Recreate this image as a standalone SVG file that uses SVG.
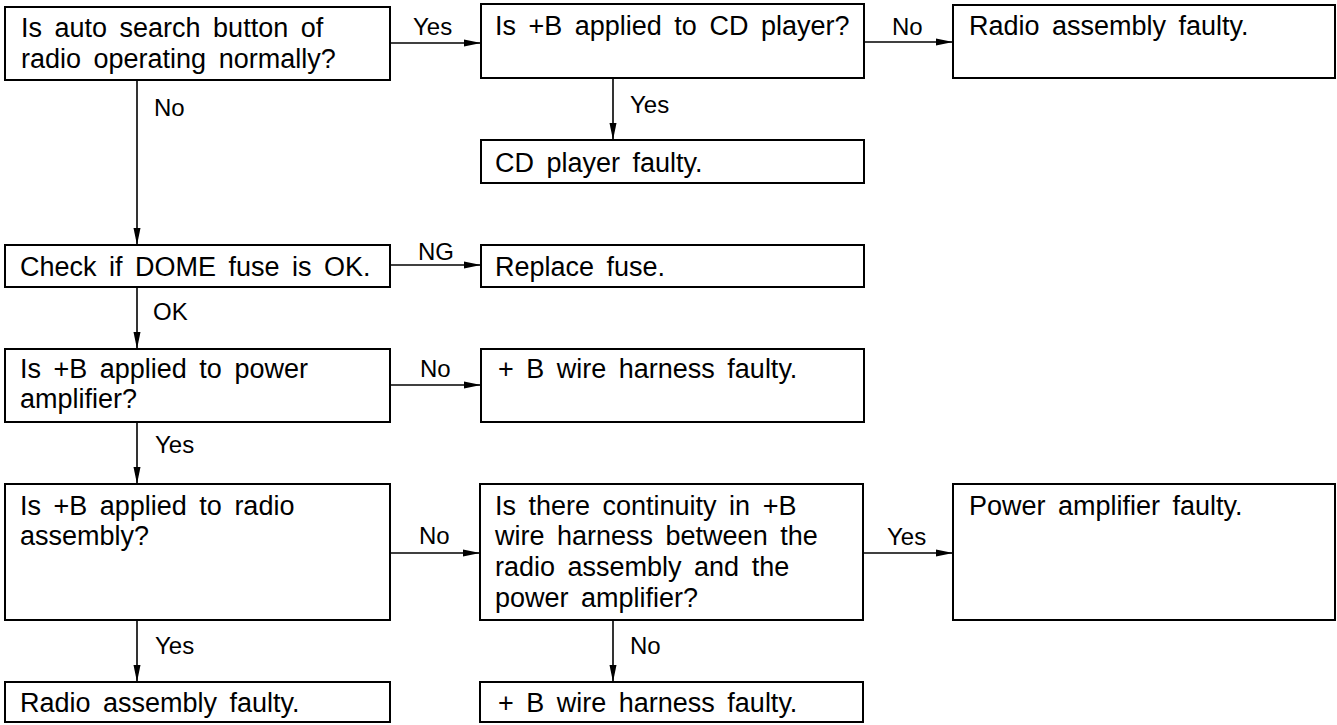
<svg xmlns="http://www.w3.org/2000/svg" width="1337" height="725" viewBox="0 0 1337 725">
<defs>
<marker id="ah" markerUnits="userSpaceOnUse" markerWidth="17" markerHeight="8" refX="17" refY="4" orient="auto">
<path d="M0,0.5 L17,4 L0,7.5 z" fill="#000"/>
</marker>
<style>
.box{fill:#fff;stroke:#000;stroke-width:2}
.t{font-family:"Liberation Sans",Arial,sans-serif;font-size:27px;fill:#000;word-spacing:5px}
.l{font-family:"Liberation Sans",Arial,sans-serif;font-size:24px;fill:#000}
.c{fill:none;stroke:#000;stroke-width:1.6;marker-end:url(#ah)}
</style>
</defs>
<rect width="1337" height="725" fill="#fff"/>
<g id="connectors">
<line class="c" x1="390" y1="43" x2="481" y2="43"/>
<line class="c" x1="864" y1="42" x2="953" y2="42"/>
<line class="c" x1="613" y1="78" x2="613" y2="140"/>
<line class="c" x1="137" y1="80" x2="137" y2="245"/>
<line class="c" x1="390" y1="265" x2="481" y2="265"/>
<line class="c" x1="137" y1="287" x2="137" y2="349"/>
<line class="c" x1="390" y1="385" x2="481" y2="385"/>
<line class="c" x1="137" y1="422" x2="137" y2="484"/>
<line class="c" x1="390" y1="553" x2="480" y2="553"/>
<line class="c" x1="863" y1="553" x2="953" y2="553"/>
<line class="c" x1="137" y1="620" x2="137" y2="682"/>
<line class="c" x1="613" y1="620" x2="613" y2="682"/>
<text class="l" x="413" y="35">Yes</text>
<text class="l" x="892" y="35">No</text>
<text class="l" x="154" y="116">No</text>
<text class="l" x="630" y="113">Yes</text>
<text class="l" x="418" y="260">NG</text>
<text class="l" x="153" y="320">OK</text>
<text class="l" x="420" y="377">No</text>
<text class="l" x="155" y="453">Yes</text>
<text class="l" x="419" y="544">No</text>
<text class="l" x="887" y="545">Yes</text>
<text class="l" x="155" y="654">Yes</text>
<text class="l" x="630" y="654">No</text>
</g>
<g id="n1"><rect class="box" x="5" y="7" width="385" height="73"/>
<text class="t" x="21" y="37">Is auto search button of</text>
<text class="t" x="21" y="68">radio operating normally?</text></g>
<g id="n2"><rect class="box" x="481" y="4" width="383" height="74"/>
<text class="t" x="495" y="35">Is +B applied to CD player?</text></g>
<g id="n3"><rect class="box" x="953" y="5" width="382" height="73"/>
<text class="t" x="969" y="35">Radio assembly faulty.</text></g>
<g id="n4"><rect class="box" x="481" y="140" width="383" height="43"/>
<text class="t" x="495" y="172">CD player faulty.</text></g>
<g id="n5"><rect class="box" x="5" y="245" width="385" height="42"/>
<text class="t" x="20" y="276">Check if DOME fuse is OK.</text></g>
<g id="n6"><rect class="box" x="481" y="245" width="383" height="42"/>
<text class="t" x="495" y="276">Replace fuse.</text></g>
<g id="n7"><rect class="box" x="5" y="349" width="385" height="73"/>
<text class="t" x="20" y="378">Is +B applied to power</text>
<text class="t" x="20" y="408">amplifier?</text></g>
<g id="n8"><rect class="box" x="481" y="349" width="383" height="73"/>
<text class="t" x="498" y="378">+ B wire harness faulty.</text></g>
<g id="n9"><rect class="box" x="5" y="484" width="385" height="136"/>
<text class="t" x="20" y="515">Is +B applied to radio</text>
<text class="t" x="20" y="545">assembly?</text></g>
<g id="n10"><rect class="box" x="480" y="484" width="383" height="136"/>
<text class="t" x="495" y="515">Is there continuity in +B</text>
<text class="t" x="495" y="545">wire harness between the</text>
<text class="t" x="495" y="576">radio assembly and the</text>
<text class="t" x="495" y="607">power amplifier?</text></g>
<g id="n11"><rect class="box" x="953" y="484" width="382" height="136"/>
<text class="t" x="969" y="515">Power amplifier faulty.</text></g>
<g id="n12"><rect class="box" x="5" y="682" width="385" height="40"/>
<text class="t" x="20" y="712">Radio assembly faulty.</text></g>
<g id="n13"><rect class="box" x="480" y="682" width="383" height="40"/>
<text class="t" x="498" y="712">+ B wire harness faulty.</text></g>
</svg>
